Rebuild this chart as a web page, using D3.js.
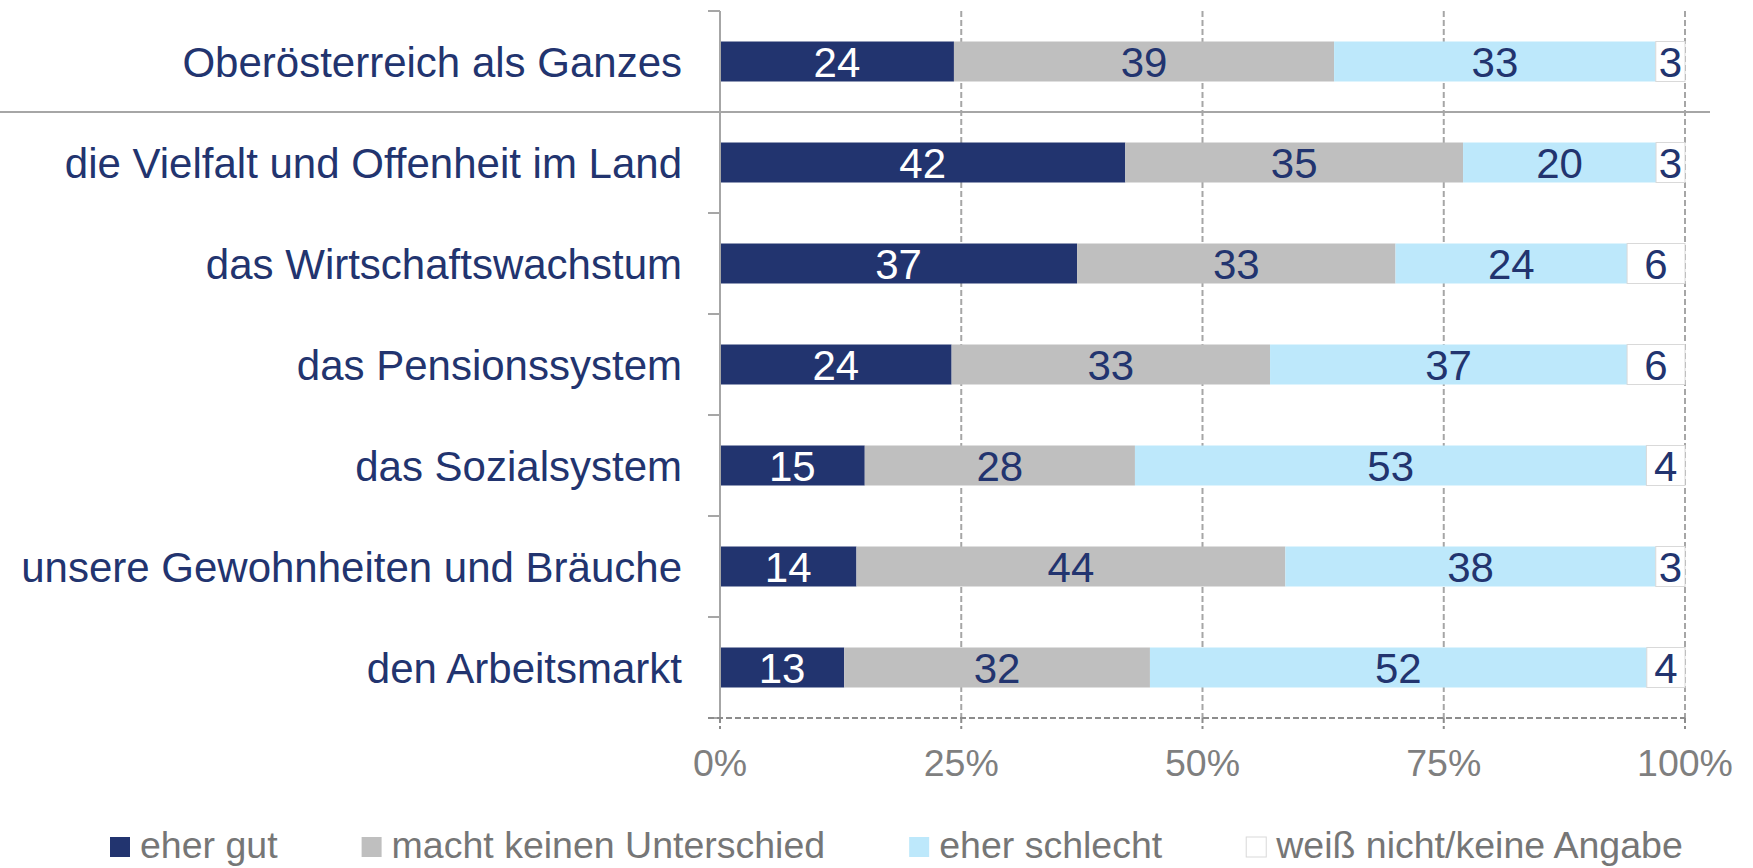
<!DOCTYPE html>
<html lang="de">
  <head>
    <meta charset="utf-8">
    <title>Oberösterreich</title>
    <style>
      body { margin: 0; background: #fff; }
      svg { display: block; font-family: "Liberation Sans", Arial, sans-serif; }
    </style>
  </head>
  <body>
    <svg class="chart"></svg>
    <script src="https://d3js.org/d3.v7.min.js"></script>
    <script>
      const categories = [
        "Oberösterreich als Ganzes",
        "die Vielfalt und Offenheit im Land",
        "das Wirtschaftswachstum",
        "das Pensionssystem",
        "das Sozialsystem",
        "unsere Gewohnheiten und Bräuche",
        "den Arbeitsmarkt"
      ];
      const seriesNames = ["eher gut", "macht keinen Unterschied", "eher schlecht", "weiß nicht/keine Angabe"];
      const eherGut = [24, 42, 37, 24, 15, 14, 13];
      const keinUnterschied = [39, 35, 33, 33, 28, 44, 32];
      const eherSchlecht = [33, 20, 24, 37, 53, 38, 52];
      const weissNicht = [3, 3, 6, 6, 4, 3, 4];
      const xTicks = [0, 0.25, 0.5, 0.75, 1];

      const colors = ["#22346F", "#BFBFBF", "#BDE8FB", "#FFFFFF"];
      const labelColors = ["#FFFFFF", "#22346F", "#22346F", "#22346F"];

      const rows = categories.map((c, i) => ({
        cat: c,
        s0: eherGut[i], s1: keinUnterschied[i], s2: eherSchlecht[i], s3: weissNicht[i]
      }));
      const keys = ["s0", "s1", "s2", "s3"];

      const width = 1753, height = 868;
      const svg = d3.select(".chart").attr("width", width).attr("height", height);

      const x = d3.scaleLinear().domain([0, 1]).range([720, 1685]);
      const y = d3.scaleBand().domain(categories).range([11, 718])
        .paddingInner(0.604).paddingOuter(0.302);

      const stacked = d3.stack().keys(keys).offset(d3.stackOffsetExpand)(rows);

      // gridlines
      svg.append("g").selectAll("line").data(xTicks.slice(1)).enter()
        .append("line")
        .attr("x1", d => x(d)).attr("x2", d => x(d))
        .attr("y1", 11).attr("y2", 718)
        .attr("stroke", "#A6A6A6").attr("stroke-width", 2)
        .attr("stroke-dasharray", "6,3");

      // separator under first row
      const sepY = y(categories[1]) - y.step() * y.paddingOuter();
      svg.append("line")
        .attr("x1", 0).attr("x2", 1710)
        .attr("y1", sepY).attr("y2", sepY)
        .attr("stroke", "#A6A6A6").attr("stroke-width", 2);

      // bars
      const layer = svg.append("g").selectAll("g").data(stacked).enter()
        .append("g")
        .attr("fill", (d, i) => colors[i]);

      layer.selectAll("rect").data(d => d).enter()
        .append("rect")
        .attr("x", d => x(d[0]))
        .attr("y", d => y(d.data.cat))
        .attr("width", d => x(d[1]) - x(d[0]))
        .attr("height", y.bandwidth())
        .attr("stroke", function() {
          return d3.select(this.parentNode).datum().key === "s3" ? "#D9D9D9" : "none";
        })
        .attr("stroke-width", 1);

      // data labels
      stacked.forEach((s, si) => {
        svg.append("g").selectAll("text").data(s).enter()
          .append("text")
          .attr("x", d => (x(d[0]) + x(d[1])) / 2)
          .attr("y", d => y(d.data.cat) + y.bandwidth() / 2)
          .attr("dy", "0.36em")
          .attr("text-anchor", "middle")
          .attr("font-size", 42)
          .attr("fill", labelColors[si])
          .text(d => d.data[s.key]);
      });

      // y axis
      svg.append("line")
        .attr("x1", 720).attr("x2", 720).attr("y1", 11).attr("y2", 718)
        .attr("stroke", "#A6A6A6").attr("stroke-width", 2);
      const boundaries = d3.range(categories.length + 1).map(k => y.range()[0] + k * y.step());
      svg.append("g").selectAll("line").data(boundaries).enter()
        .append("line")
        .attr("x1", 708).attr("x2", 720)
        .attr("y1", d => d).attr("y2", d => d)
        .attr("stroke", "#A6A6A6").attr("stroke-width", 2);

      svg.append("g").selectAll("text").data(categories).enter()
        .append("text")
        .attr("x", 682)
        .attr("y", d => y(d) + y.bandwidth() / 2)
        .attr("dy", "0.36em")
        .attr("text-anchor", "end")
        .attr("font-size", 42)
        .attr("fill", "#22346F")
        .text(d => d);

      // x axis
      svg.append("line")
        .attr("x1", 708).attr("x2", 1685).attr("y1", 718).attr("y2", 718)
        .attr("stroke", "#8C8C8C").attr("stroke-width", 2)
        .attr("stroke-dasharray", "6,3");
      svg.append("g").selectAll("line").data(xTicks).enter()
        .append("line")
        .attr("x1", d => x(d)).attr("x2", d => x(d))
        .attr("y1", 718).attr("y2", 729)
        .attr("stroke", "#8C8C8C").attr("stroke-width", 2)
        .attr("stroke-dasharray", "5,3");
      svg.append("g").selectAll("text").data(xTicks).enter()
        .append("text")
        .attr("x", d => x(d))
        .attr("y", 776)
        .attr("text-anchor", "middle")
        .attr("font-size", 37.5)
        .attr("fill", "#7F7F7F")
        .text(d3.format(".0%"));

      // legend
      const legend = svg.append("g").attr("id", "legend");
      let lx = 110;
      seriesNames.forEach((name, i) => {
        legend.append("rect")
          .attr("x", lx).attr("y", 837)
          .attr("width", 20).attr("height", 20)
          .attr("fill", colors[i])
          .attr("stroke", i === 3 ? "#D9D9D9" : "none");
        const t = legend.append("text")
          .attr("x", lx + 30).attr("y", 858)
          .attr("font-size", 37.5)
          .attr("fill", "#767676")
          .text(name);
        lx += 30 + t.node().getComputedTextLength() + 84;
      });
    </script>
  </body>
</html>
